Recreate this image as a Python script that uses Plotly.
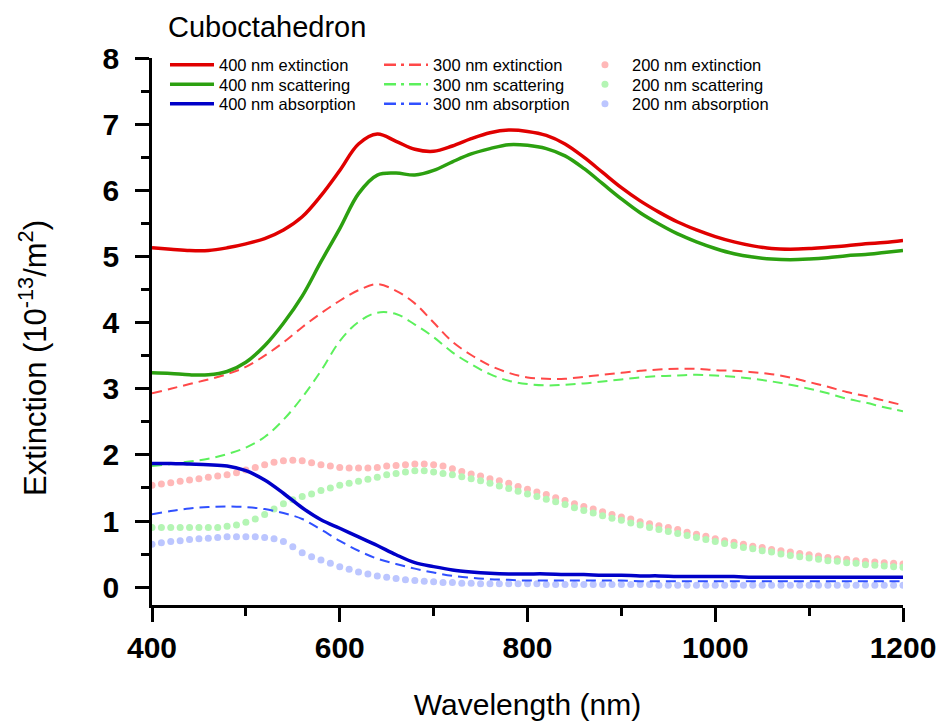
import plotly.graph_objects as go

# ---------------- data ----------------
wl_line = [400, 420, 440, 460, 480, 500, 520, 540, 560, 580, 600, 620, 640, 660, 680, 700,
           720, 740, 760, 780, 800, 820, 840, 860, 880, 900, 920, 940, 960, 980, 1000,
           1020, 1040, 1060, 1080, 1100, 1120, 1140, 1160, 1180, 1200]

ext_400 = [5.13, 5.11, 5.09, 5.09, 5.13, 5.19, 5.27, 5.40, 5.60, 5.92, 6.30, 6.70, 6.85, 6.74,
           6.62, 6.59, 6.67, 6.78, 6.87, 6.91, 6.89, 6.83, 6.70, 6.50, 6.27, 6.04, 5.84, 5.67,
           5.52, 5.40, 5.30, 5.22, 5.16, 5.12, 5.11, 5.12, 5.14, 5.16, 5.19, 5.21, 5.24]
sca_400 = [3.24, 3.23, 3.21, 3.21, 3.26, 3.40, 3.65, 3.99, 4.40, 4.92, 5.42, 5.95, 6.23, 6.26,
           6.23, 6.30, 6.43, 6.55, 6.63, 6.69, 6.68, 6.63, 6.52, 6.33, 6.10, 5.87, 5.66, 5.49,
           5.34, 5.22, 5.12, 5.04, 4.99, 4.96, 4.95, 4.96, 4.98, 5.01, 5.03, 5.06, 5.09]
abs_400 = [1.87, 1.87, 1.86, 1.85, 1.83, 1.76, 1.62, 1.42, 1.20, 1.02, 0.89, 0.76, 0.63, 0.49,
           0.37, 0.31, 0.26, 0.23, 0.21, 0.20, 0.20, 0.20, 0.19, 0.19, 0.18, 0.18, 0.17, 0.17,
           0.16, 0.16, 0.16, 0.16, 0.15, 0.15, 0.15, 0.15, 0.15, 0.15, 0.15, 0.15, 0.15]

ext_300 = [2.93, 3.00, 3.07, 3.14, 3.22, 3.33, 3.50, 3.70, 3.93, 4.14, 4.33, 4.49, 4.58, 4.48,
           4.29, 4.00, 3.71, 3.51, 3.35, 3.24, 3.17, 3.15, 3.15, 3.18, 3.21, 3.24, 3.27, 3.29,
           3.30, 3.30, 3.28, 3.27, 3.25, 3.22, 3.17, 3.10, 3.03, 2.95, 2.89, 2.82, 2.75]
sca_300 = [1.83, 1.86, 1.90, 1.94, 2.01, 2.11, 2.27, 2.53, 2.87, 3.27, 3.72, 4.01, 4.15, 4.13,
           3.97, 3.78, 3.55, 3.37, 3.22, 3.12, 3.07, 3.05, 3.06, 3.08, 3.11, 3.14, 3.17, 3.19,
           3.20, 3.21, 3.20, 3.18, 3.15, 3.11, 3.06, 3.00, 2.93, 2.85, 2.79, 2.72, 2.66]
abs_300 = [1.10, 1.15, 1.19, 1.21, 1.22, 1.21, 1.18, 1.12, 1.03, 0.87, 0.70, 0.55, 0.43, 0.35,
           0.28, 0.22, 0.17, 0.14, 0.12, 0.11, 0.10, 0.10, 0.10, 0.10, 0.10, 0.10, 0.09, 0.09,
           0.09, 0.09, 0.09, 0.09, 0.09, 0.09, 0.09, 0.09, 0.09, 0.09, 0.09, 0.09, 0.09]

wl_dot = [400, 410, 420, 430, 440, 450, 460, 470, 480, 490, 500, 510, 520, 530, 540, 550, 560,
          570, 580, 590, 600, 610, 620, 630, 640, 650, 660, 670, 680, 690, 700, 710, 720, 730,
          740, 750, 760, 770, 780, 790, 800, 810, 820, 830, 840, 850, 860, 870, 880, 890, 900,
          910, 920, 930, 940, 950, 960, 970, 980, 990, 1000, 1010, 1020, 1030, 1040, 1050,
          1060, 1070, 1080, 1090, 1100, 1110, 1120, 1130, 1140, 1150, 1160, 1170, 1180, 1190, 1200]

ext_200 = [1.54, 1.56, 1.58, 1.60, 1.62, 1.64, 1.66, 1.68, 1.70, 1.73, 1.77, 1.81, 1.85, 1.89,
           1.91, 1.92, 1.91, 1.88, 1.85, 1.83, 1.81, 1.80, 1.80, 1.80, 1.81, 1.83, 1.84, 1.85,
           1.86, 1.86, 1.85, 1.83, 1.79, 1.75, 1.71, 1.68, 1.64, 1.61, 1.57, 1.52, 1.48, 1.44,
           1.40, 1.35, 1.31, 1.26, 1.22, 1.18, 1.14, 1.10, 1.06, 1.03, 0.99, 0.96, 0.93, 0.90,
           0.87, 0.83, 0.80, 0.77, 0.73, 0.70, 0.68, 0.65, 0.62, 0.60, 0.57, 0.55, 0.53, 0.51,
           0.49, 0.47, 0.45, 0.43, 0.42, 0.40, 0.39, 0.38, 0.37, 0.36, 0.35]
sca_200 = [0.90, 0.90, 0.90, 0.90, 0.90, 0.90, 0.90, 0.90, 0.92, 0.94, 0.98, 1.03, 1.10, 1.18,
           1.26, 1.32, 1.37, 1.41, 1.46, 1.50, 1.54, 1.57, 1.60, 1.63, 1.66, 1.70, 1.72, 1.74,
           1.76, 1.76, 1.74, 1.72, 1.70, 1.67, 1.64, 1.61, 1.57, 1.53, 1.49, 1.45, 1.41, 1.37,
           1.33, 1.29, 1.25, 1.20, 1.16, 1.12, 1.08, 1.04, 1.01, 0.97, 0.94, 0.90, 0.87, 0.84,
           0.81, 0.78, 0.75, 0.72, 0.69, 0.66, 0.63, 0.60, 0.58, 0.55, 0.53, 0.50, 0.48, 0.46,
           0.44, 0.42, 0.40, 0.39, 0.37, 0.36, 0.34, 0.33, 0.32, 0.31, 0.30]
abs_200 = [0.65, 0.67, 0.69, 0.70, 0.72, 0.73, 0.74, 0.75, 0.76, 0.76, 0.76, 0.76, 0.75, 0.73,
           0.69, 0.61, 0.52, 0.46, 0.41, 0.36, 0.31, 0.27, 0.23, 0.20, 0.17, 0.15, 0.13, 0.11,
           0.10, 0.09, 0.08, 0.07, 0.07, 0.06, 0.06, 0.05, 0.05, 0.05, 0.05, 0.05, 0.05, 0.05,
           0.04, 0.04, 0.04, 0.04, 0.04, 0.04, 0.04, 0.04, 0.04, 0.04, 0.04, 0.04, 0.03, 0.03,
           0.03, 0.03, 0.03, 0.03, 0.03, 0.03, 0.03, 0.03, 0.03, 0.03, 0.03, 0.03, 0.03, 0.03,
           0.03, 0.03, 0.03, 0.03, 0.03, 0.03, 0.03, 0.03, 0.03, 0.03, 0.03]

x_ticks = [400, 600, 800, 1000, 1200]
y_ticks = [0, 1, 2, 3, 4, 5, 6, 7, 8]

FONT = "Liberation Sans, Arial, sans-serif"

solid = [("400 nm extinction", ext_400, "#e00000"),
         ("400 nm scattering", sca_400, "#2ca010"),
         ("400 nm absorption", abs_400, "#0000c8")]
dashed = [("300 nm extinction", ext_300, "#ff4848"),
          ("300 nm scattering", sca_300, "#5cf05c"),
          ("300 nm absorption", abs_300, "#3050ff")]
dotted = [("200 nm extinction", ext_200, "#ffb8b8"),
          ("200 nm scattering", sca_200, "#b4f5b4"),
          ("200 nm absorption", abs_200, "#bcc6ff")]

fig = go.Figure()

# dotted series (drawn first, underneath)
for i, (name, ys, col) in enumerate(dotted):
    fig.add_trace(go.Scatter(x=wl_dot, y=ys, name=name, mode="markers",
                             marker=dict(size=7, color=col), legend=f"legend{7 + i}"))
# dashed series (plot) + dash-dot legend keys
for i, (name, ys, col) in enumerate(dashed):
    fig.add_trace(go.Scatter(x=wl_line, y=ys, name=name, mode="lines", showlegend=False,
                             line=dict(color=col, width=2, dash="10px,6px", shape="spline")))
    fig.add_trace(go.Scatter(x=[None], y=[None], name=name, mode="lines",
                             line=dict(color=col, width=2.5, dash="12px,5px,3px,5px"),
                             legend=f"legend{4 + i}"))
# solid series
for i, (name, ys, col) in enumerate(solid):
    fig.add_trace(go.Scatter(x=wl_line, y=ys, name=name, mode="lines",
                             line=dict(color=col, width=3.5, shape="spline"),
                             legend="legend" if i == 0 else f"legend{1 + i}"))

leg_common = dict(yanchor="middle", xanchor="left", bgcolor="rgba(0,0,0,0)",
                  font=dict(family=FONT, size=16.5, color="black"),
                  tracegroupgap=0, itemwidth=44)
col_x = [0.0173, 0.3023, 0.5672]
row_y = [0.9872, 0.9516, 0.9159]
legends = {}
for c in range(3):
    for r in range(3):
        k = c * 3 + r + 1
        key = "legend" if k == 1 else f"legend{k}"
        legends[key] = dict(x=col_x[c], y=row_y[r], **leg_common)

fig.update_layout(
    width=939, height=721,
    margin=dict(l=152, r=36, t=58, b=116, autoexpand=False),
    paper_bgcolor="white", plot_bgcolor="white",
    font=dict(family=FONT, color="black"),
    title=dict(text="Cuboctahedron", x=168 / 939, xref="container", xanchor="left",
               y=1 - 27 / 721, yref="container", yanchor="middle",
               font=dict(family=FONT, size=29, color="black")),
    xaxis=dict(range=[400, 1200], tickvals=x_ticks, ticks="outside", ticklen=14,
               tickwidth=2.5, tickcolor="black", showline=True, linewidth=2.5,
               linecolor="black", showgrid=False, zeroline=False, automargin=False,
               tickfont=dict(family=FONT, size=30, color="black", weight="bold"),
               minor=dict(dtick=100, ticks="outside", ticklen=8, tickwidth=2.5,
                          tickcolor="black", showgrid=False),
               title=dict(text="Wavelength (nm)", standoff=32,
                          font=dict(family=FONT, size=30, color="black"))),
    yaxis=dict(range=[-0.27, 8.0], tickvals=y_ticks, ticks="outside", ticklen=14,
               tickwidth=2.5, tickcolor="black", showline=True, linewidth=2.5,
               linecolor="black", showgrid=False, zeroline=False, automargin=False,
               ticklabelstandoff=10,
               tickfont=dict(family=FONT, size=30, color="black", weight="bold"),
               minor=dict(dtick=0.5, tick0=0, ticks="outside", ticklen=8, tickwidth=2.5,
                          tickcolor="black", showgrid=False)),
    annotations=[dict(text="Extinction (10<sup>-13</sup>/m<sup>2</sup>)", textangle=-90,
                      xref="paper", yref="paper", x=(33 - 152) / 751, y=(605 - 358) / 547,
                      xanchor="center", yanchor="middle", showarrow=False,
                      font=dict(family=FONT, size=31, color="black"))],
    **legends,
)

fig.write_html("out.html")
